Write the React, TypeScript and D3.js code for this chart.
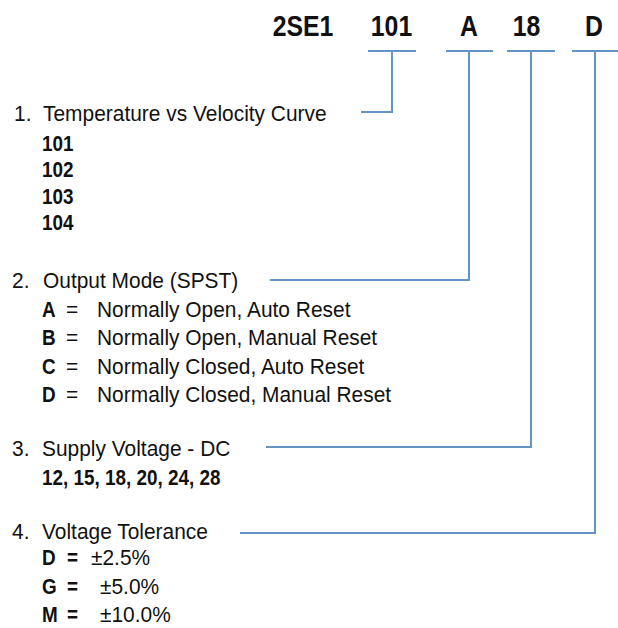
import React from "react";
import * as d3 from "d3";

const headerCodes = ["2SE1", "101", "A", "18", "D"];
const headerCenters = [303, 391.5, 469, 526.5, 594];

const sectionTitles = [
  "Temperature vs Velocity Curve",
  "Output Mode (SPST)",
  "Supply Voltage - DC",
  "Voltage Tolerance",
];
const curveCodes = ["101", "102", "103", "104"];
const outputCodes = ["A", "B", "C", "D"];
const outputLabels = [
  "Normally Open, Auto Reset",
  "Normally Open, Manual Reset",
  "Normally Closed, Auto Reset",
  "Normally Closed, Manual Reset",
];
const voltageList = "12, 15, 18, 20, 24, 28";
const toleranceCodes = ["D", "G", "M"];
const toleranceLabels = ["\u00B12.5%", "\u00B15.0%", "\u00B110.0%"];

// connector geometry: bracket span, vertical x, end y, left end x
const brackets = [
  { x0: 368, x1: 416, vx: 392, y: 112, lx: 361 },
  { x0: 446, x1: 493, vx: 469, y: 280, lx: 270 },
  { x0: 507, x1: 555, vx: 531, y: 447, lx: 266 },
  { x0: 572, x1: 620, vx: 595, y: 533, lx: 240 },
];

const LINE = "#6295c4";
const FONT = "'Liberation Sans', Arial, sans-serif";
const SX = 0.84;
const RSX = 0.93;

function B({ x, y, size = 22.5, anchor = "start", children }: any) {
  return (
    <text
      transform={`translate(${x},${y}) scale(${SX},1)`}
      fontFamily={FONT}
      fontWeight="bold"
      fontSize={size}
      textAnchor={anchor}
      fill="#111"
    >
      {children}
    </text>
  );
}

function R({ x, y, size = 22.5, children }: any) {
  return (
    <text
      transform={`translate(${x},${y}) scale(${RSX},1)`}
      fontFamily={FONT}
      fontSize={size}
      fill="#111"
    >
      {children}
    </text>
  );
}

export default function App() {
  const line = d3.line<[number, number]>();
  const barY = 51;
  const sec1Rows = d3.scaleLinear().domain([0, 3]).range([151, 230]);
  const sec2Rows = d3.scaleLinear().domain([0, 3]).range([317, 402]);
  const sec4Rows = d3.scaleLinear().domain([0, 2]).range([565, 622]);
  const tolX = [91, 100, 100];

  return (
    <svg
      width={618}
      height={628}
      style={{ position: "absolute", left: 0, top: 0, background: "#fff" }}
    >
      {headerCodes.map((c, i) => (
        <B key={c + i} x={headerCenters[i]} y={36} size={29.5} anchor="middle">
          {c}
        </B>
      ))}

      {brackets.map((b, i) => (
        <g key={i} fill="none" stroke={LINE} strokeWidth={2}>
          <path d={line([[b.x0, barY], [b.x1, barY]]) || ""} />
          <path
            d={line([[b.vx, barY], [b.vx, b.y], [b.lx, b.y]]) || ""}
            strokeLinejoin="miter"
          />
        </g>
      ))}

      {/* Section 1 */}
      <R x={14} y={121}>1.</R>
      <R x={43} y={121}>{sectionTitles[0]}</R>
      {curveCodes.map((c, i) => (
        <B key={c} x={42} y={sec1Rows(i)}>
          {c}
        </B>
      ))}

      {/* Section 2 */}
      <R x={12} y={288}>2.</R>
      <R x={43} y={288}>{sectionTitles[1]}</R>
      {outputCodes.map((c, i) => (
        <g key={c}>
          <B x={42} y={sec2Rows(i)}>{c}</B>
          <R x={66} y={sec2Rows(i)}>=</R>
          <R x={97} y={sec2Rows(i)}>{outputLabels[i]}</R>
        </g>
      ))}

      {/* Section 3 */}
      <R x={12} y={456}>3.</R>
      <R x={42} y={456}>{sectionTitles[2]}</R>
      <B x={42} y={485}>{voltageList}</B>

      {/* Section 4 */}
      <R x={12} y={539}>4.</R>
      <R x={42} y={539}>{sectionTitles[3]}</R>
      {toleranceCodes.map((c, i) => (
        <g key={c}>
          <B x={42} y={sec4Rows(i)}>{c}</B>
          <B x={67} y={sec4Rows(i)}>=</B>
          <R x={tolX[i]} y={sec4Rows(i)}>{toleranceLabels[i]}</R>
        </g>
      ))}
    </svg>
  );
}
